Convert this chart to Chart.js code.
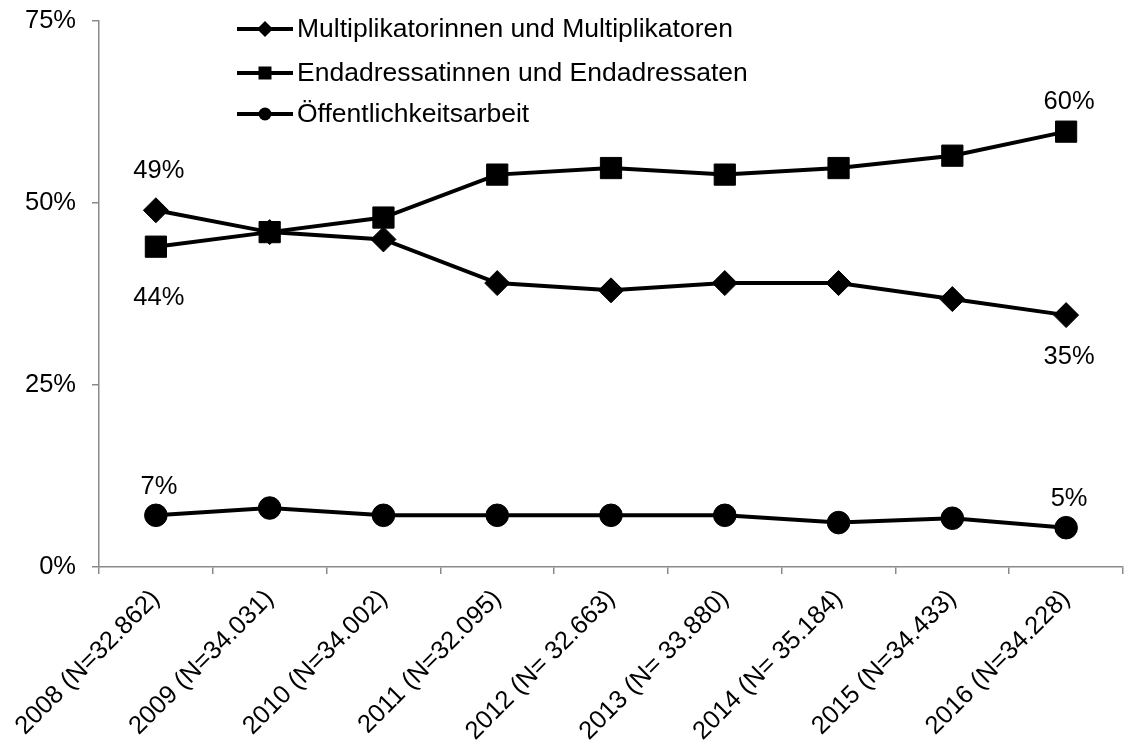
<!DOCTYPE html>
<html lang="de">
<head>
<meta charset="utf-8">
<title>Anteile nach Zielgruppe 2008–2016</title>
<script src="https://cdn.jsdelivr.net/npm/chart.js@4.4.1/dist/chart.umd.min.js"></script>
<style>
  html, body { margin: 0; padding: 0; background: #ffffff; }
  #wrap { width: 1124px; height: 744px; position: relative; }
  canvas { display: block; }
</style>
</head>
<body>
<div id="wrap"><canvas id="chart" width="1124" height="744"></canvas></div>
<script>
// Survey years with sample sizes
const categories = [
  '2008 (N=32.862)', '2009 (N=34.031)', '2010 (N=34.002)',
  '2011 (N=32.095)', '2012 (N= 32.663)', '2013 (N= 33.880)',
  '2014 (N= 35.184)', '2015 (N=34.433)', '2016 (N=34.228)'
];

const seriesNames = [
  'Multiplikatorinnen und Multiplikatoren',
  'Endadressatinnen und Endadressaten',
  'Öffentlichkeitsarbeit'
];

// Shares in percent
const multiplikatoren = [49, 46, 45, 39, 38, 39, 39, 36.8, 34.6];
const endadressaten   = [44, 46, 48, 53.9, 54.8, 53.9, 54.8, 56.5, 59.8];
const oeffentlichkeit = [7.1, 8.1, 7.1, 7.1, 7.1, 7.1, 6.1, 6.7, 5.4];

const yTicks = [0, 25, 50, 75];

const FONT = 'Arial, "Liberation Sans", sans-serif';
const FONT_SIZE = 25.5;
const LEGEND_FONT_SIZE = 26.5;
const AXIS_GREY = '#8a8a8a';

// Value labels: dataset index, point index, vertical shift
const valueLabels = [
  { ds: 0, i: 0, dy: -39 },
  { ds: 1, i: 0, dy: 51 },
  { ds: 1, i: 8, dy: -30 },
  { ds: 0, i: 8, dy: 42 },
  { ds: 2, i: 0, dy: -28 },
  { ds: 2, i: 8, dy: -29 }
];

const valueLabelPlugin = {
  id: 'valueLabels',
  afterDatasetsDraw(chart) {
    const ctx = chart.ctx;
    ctx.save();
    ctx.font = FONT_SIZE + 'px ' + FONT;
    ctx.fillStyle = '#000';
    ctx.textAlign = 'center';
    ctx.textBaseline = 'middle';
    valueLabels.forEach(l => {
      const pt = chart.getDatasetMeta(l.ds).data[l.i];
      const v = chart.data.datasets[l.ds].data[l.i];
      ctx.fillText(Math.round(v) + '%', pt.x + 3, pt.y + l.dy);
    });
    ctx.restore();
  }
};

// Legend with line and marker in front of each series name
const lineLegendPlugin = {
  id: 'lineLegend',
  afterDraw(chart) {
    const ctx = chart.ctx;
    const rows = [29, 73, 114];
    const x0 = 237, x1 = 293, xm = 265, xt = 297;
    ctx.save();
    chart.data.datasets.forEach((ds, k) => {
      const y = rows[k];
      ctx.strokeStyle = '#000';
      ctx.lineWidth = 4;
      ctx.beginPath();
      ctx.moveTo(x0, y);
      ctx.lineTo(x1, y);
      ctx.stroke();
      ctx.fillStyle = '#000';
      ctx.beginPath();
      if (ds.pointStyle === 'rectRot') {
        const r = 8;
        ctx.moveTo(xm - r, y); ctx.lineTo(xm, y - r);
        ctx.lineTo(xm + r, y); ctx.lineTo(xm, y + r);
        ctx.closePath();
      } else if (ds.pointStyle === 'rect') {
        ctx.rect(xm - 6.5, y - 6.5, 13, 13);
      } else {
        ctx.arc(xm, y, 6.5, 0, Math.PI * 2);
      }
      ctx.fill();
      ctx.font = LEGEND_FONT_SIZE + 'px ' + FONT;
      ctx.textAlign = 'left';
      ctx.textBaseline = 'middle';
      ctx.fillText(ds.label, xt, y + 1);
    });
    ctx.restore();
  }
};

const styles = [
  { pointStyle: 'rectRot', pointRadius: 12.5 },
  { pointStyle: 'rect', pointRadius: 15 },
  { pointStyle: 'circle', pointRadius: 11.3 }
];

const values = [multiplikatoren, endadressaten, oeffentlichkeit];

// Fixed axis box sizes so the plot area stays put
function fixBox(size, key) {
  return function (scale) {
    scale[key] = size;
    scale.paddingLeft = 0; scale.paddingRight = 0;
    scale.paddingTop = 0; scale.paddingBottom = 0;
  };
}

new Chart(document.getElementById('chart'), {
  type: 'line',
  data: {
    labels: categories,
    datasets: values.map((d, k) => ({
      label: seriesNames[k],
      data: d,
      borderColor: '#000',
      borderWidth: 4,
      backgroundColor: '#000',
      pointBackgroundColor: '#000',
      pointBorderColor: '#000',
      pointBorderWidth: 1,
      pointStyle: styles[k].pointStyle,
      pointRadius: styles[k].pointRadius,
      tension: 0,
      fill: false
    }))
  },
  options: {
    responsive: false,
    animation: false,
    events: [],
    layout: { autoPadding: false, padding: { top: 21, right: 1, left: 0, bottom: 0 } },
    plugins: {
      legend: { display: false },
      tooltip: { enabled: false }
    },
    scales: {
      x: {
        offset: true,
        afterFit: fixBox(177, 'height'),
        grid: {
          offset: true,
          drawOnChartArea: false,
          drawTicks: true,
          tickLength: 7,
          color: AXIS_GREY,
          lineWidth: 1.5
        },
        border: { display: true, color: AXIS_GREY, width: 1.5 },
        ticks: {
          color: '#000',
          font: { family: FONT, size: FONT_SIZE },
          minRotation: 45,
          maxRotation: 45,
          autoSkip: false,
          padding: 10
        }
      },
      y: {
        min: 0,
        max: 75,
        afterFit: fixBox(99, 'width'),
        afterBuildTicks(scale) { scale.ticks = yTicks.map(v => ({ value: v })); },
        grid: {
          drawOnChartArea: false,
          drawTicks: true,
          tickLength: 7,
          color: AXIS_GREY,
          lineWidth: 1.5
        },
        border: { display: true, color: AXIS_GREY, width: 1.5 },
        ticks: {
          color: '#000',
          font: { family: FONT, size: FONT_SIZE },
          padding: 16,
          callback: v => v + '%'
        }
      }
    }
  },
  plugins: [valueLabelPlugin, lineLegendPlugin]
});
</script>
</body>
</html>
